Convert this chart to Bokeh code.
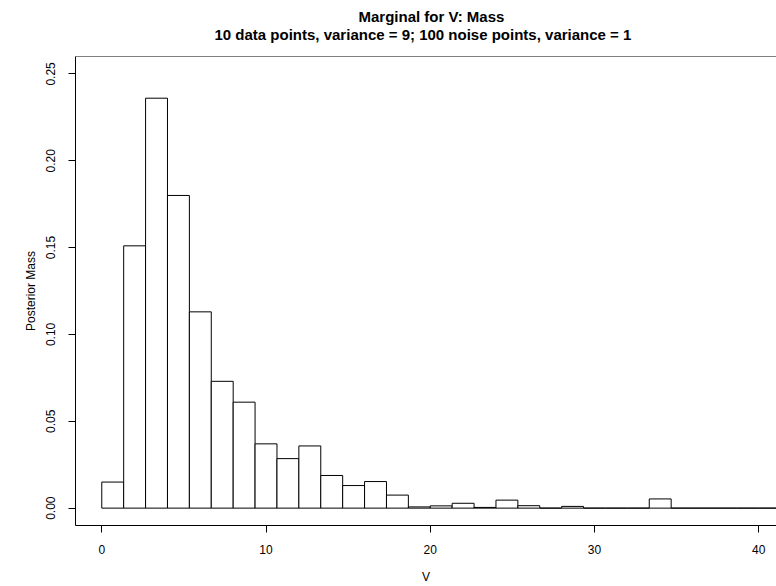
from bokeh.plotting import figure
from bokeh.models import Range1d, FixedTicker, PrintfTickFormatter, Title, Span
from bokeh.embed import file_html
from bokeh.resources import INLINE

# ---- data ----
bin_width = 4.0 / 3.0
mass = [0.015, 0.151, 0.236, 0.180, 0.113, 0.073, 0.061, 0.037, 0.0285, 0.0358,
        0.0188, 0.013, 0.0153, 0.0075, 0.0007, 0.0013, 0.0028, 0.0004, 0.0046, 0.0014,
        0.0, 0.0010, 0.0, 0.0, 0.0, 0.0053, 0.0, 0.0, 0.0, 0.0, 0.0]
x_ticks = [0, 10, 20, 30, 40]
y_ticks = [0.0, 0.05, 0.10, 0.15, 0.20, 0.25]
title_line1 = "Marginal for V: Mass"
title_line2 = "10 data points, variance = 9; 100 noise points, variance = 1"
x_label = "V"
y_label = "Posterior Mass"

lefts = [i * bin_width for i in range(len(mass))]
rights = [(i + 1) * bin_width for i in range(len(mass))]

FONT = "Liberation Sans"
Y0, Y1 = -0.01, 0.26

p = figure(width=776, height=586, output_backend="svg", toolbar_location=None,
           x_range=Range1d(-1.6, 41.08), y_range=Range1d(Y0, Y1),
           min_border_left=75, min_border_right=0, min_border_top=55, min_border_bottom=59,
           title=None)
p.background_fill_color = "white"
p.border_fill_color = "white"
p.outline_line_color = None
p.grid.visible = False

p.quad(left=lefts, right=rights, top=mass, bottom=0,
       fill_color="white", line_color="black", line_width=1)

# top border of the box
p.add_layout(Span(location=Y1, dimension="width", line_color="black", line_width=1))

for ax in (p.xaxis[0], p.yaxis[0]):
    ax.axis_line_color = "black"
    ax.axis_line_width = 1
    ax.major_tick_line_color = "black"
    ax.major_tick_out = 7
    ax.major_tick_in = 0
    ax.minor_tick_line_color = None
    ax.major_label_text_font = FONT
    ax.major_label_text_font_size = "12px"
    ax.major_label_text_color = "black"
    ax.axis_label_text_font = FONT
    ax.axis_label_text_font_size = "12px"
    ax.axis_label_text_font_style = "normal"
    ax.axis_label_text_color = "black"

p.xaxis[0].ticker = FixedTicker(ticks=x_ticks)
p.xaxis[0].axis_label = x_label
p.xaxis[0].major_label_standoff = 12
p.xaxis[0].axis_label_standoff = 13

p.yaxis[0].ticker = FixedTicker(ticks=y_ticks)
p.yaxis[0].formatter = PrintfTickFormatter(format="%.2f")
p.yaxis[0].major_label_orientation = "vertical"
p.yaxis[0].axis_label = y_label
p.yaxis[0].major_label_standoff = 13
p.yaxis[0].axis_label_standoff = 6

tstyle = dict(text_font=FONT, text_font_size="15px", text_font_style="bold", text_color="black")
# added first = closest to the plot box
p.add_layout(Title(text=title_line2, align="left", offset=139, vertical_align="top",
                   standoff=21.5, **tstyle), "above")
p.add_layout(Title(text=title_line1, align="left", offset=283, vertical_align="bottom",
                   standoff=-19, **tstyle), "above")
p.add_layout(Title(text=" ", align="left", offset=0, vertical_align="bottom",
                   standoff=-4.5, **tstyle), "above")

open("out.html", "w").write(file_html(p, INLINE))
